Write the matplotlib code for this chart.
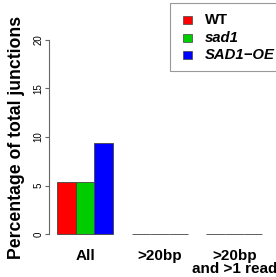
import matplotlib
matplotlib.use('Agg')
import matplotlib.pyplot as plt
from matplotlib.patches import Rectangle
import numpy as np

plt.rcParams['font.family'] = ['Liberation Sans', 'DejaVu Sans']

# data
groups = ['All', '>20bp', '>20bp\nand >1 read']
series = ['WT', 'sad1', 'SAD1\u2212OE']
series_style = ['normal', 'italic', 'italic']
colors = ['#FF0000', '#00CD00', '#0000FF']
values = {
    'WT': [5.4, 0.0, 0.0],
    'sad1': [5.4, 0.0, 0.0],
    'SAD1\u2212OE': [9.4, 0.0, 0.0],
}
yticks = [0, 5, 10, 15, 20]

W, H = 276, 277
fig = plt.figure(figsize=(W / 100, H / 100), dpi=100)

def fx(px):
    return px / W

def fy(py):
    return 1 - py / H

# axes: left 49px, bottom ~242px, top ~32px
ax = fig.add_axes([fx(49), fy(241.8), fx(276) - fx(49), fy(32.2) - fy(241.8)])

# R-style beside barplot: bar width 1, one unit gap between groups
starts = 1 + 4 * np.arange(len(groups))
for i, s in enumerate(series):
    ax.bar(starts + 0.5 + i, values[s], width=1.0, color=colors[i],
           edgecolor='#444444', linewidth=0.6, clip_on=False)

ax.set_xlim(0.571, 1 + 219 / 18.67)
ax.set_ylim(-0.8, 20.8)

for side in ['top', 'right', 'bottom']:
    ax.spines[side].set_visible(False)
ax.spines['left'].set_bounds(0, 20)
ax.spines['left'].set_color('#666666')
ax.spines['left'].set_linewidth(0.8)

ax.set_yticks(yticks)
ax.set_yticklabels([str(t) for t in yticks], rotation=90, va='center', fontsize=7)
ax.tick_params(axis='y', length=3, width=0.8, color='#666666', pad=1.2)

ax.set_xticks(starts + 1.5)
ax.set_xticklabels(groups, fontsize=11, fontweight='bold', linespacing=0.9)
ax.tick_params(axis='x', length=0, pad=5.5)

ax.set_ylabel('Percentage of total junctions', fontsize=12.7, fontweight='bold', va='center')
ax.yaxis.set_label_coords((16.5 - 49) / 227, 0.5)

# legend box (partly outside on the right, like the reference)
fig.add_artist(Rectangle((fx(170), fy(71)), fx(300) - fx(170), fy(3) - fy(71),
                         transform=fig.transFigure, facecolor='white',
                         edgecolor='#999999', linewidth=0.8, clip_on=False))
for i, s in enumerate(series):
    yc = [20, 38, 55][i]
    fig.add_artist(Rectangle((fx(183), fy(yc + 3.8)), fx(192) - fx(183), fy(yc - 3.8) - fy(yc + 3.8),
                             transform=fig.transFigure, facecolor=colors[i],
                             edgecolor='#444444', linewidth=0.5))
    fig.text(fx(205), fy(yc), s, fontsize=10.7, fontweight='bold', style=series_style[i],
             va='center', ha='left')

fig.savefig('out.png', dpi=100)
